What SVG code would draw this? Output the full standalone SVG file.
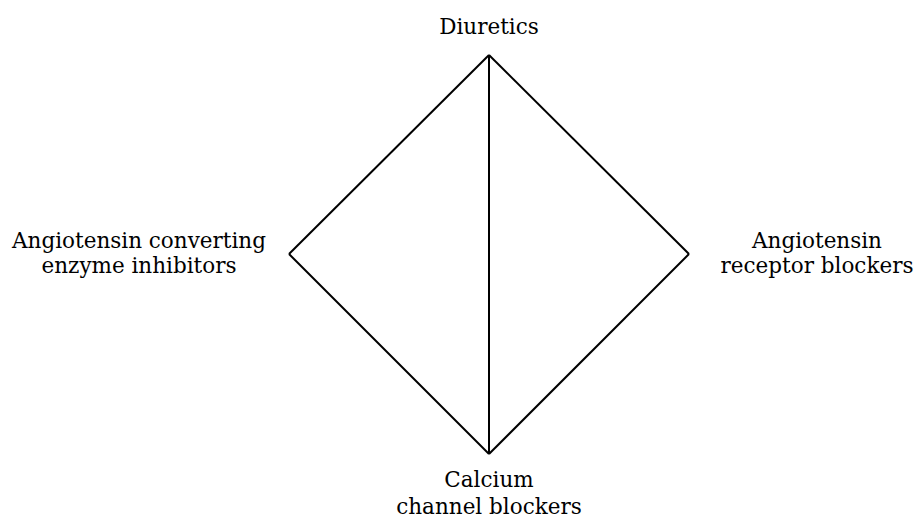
<svg xmlns="http://www.w3.org/2000/svg" width="916" height="521" viewBox="0 0 916 521">
<style>
.lbl{font-family:"DejaVu Serif","Liberation Serif",serif;font-size:21.5px;fill:#000;text-anchor:middle}
.edge{stroke:#000;stroke-width:2;fill:none}
</style>
<rect width="916" height="521" fill="#fff"/>
<g id="connectors">
<line class="edge" x1="489" y1="55" x2="689" y2="254"/>
<line class="edge" x1="689" y1="254" x2="489" y2="454"/>
<line class="edge" x1="489" y1="454" x2="289" y2="254"/>
<line class="edge" x1="289" y1="254" x2="489" y2="55"/>
<line class="edge" x1="489" y1="55" x2="489" y2="454"/>
</g>
<g id="diuretics"><text class="lbl" x="489" y="34">Diuretics</text></g>
<g id="ace"><text class="lbl" x="139" y="248">Angiotensin converting</text><text class="lbl" x="139" y="273">enzyme inhibitors</text></g>
<g id="arb"><text class="lbl" x="817" y="248">Angiotensin</text><text class="lbl" x="817" y="273">receptor blockers</text></g>
<g id="ccb"><text class="lbl" x="489" y="487">Calcium</text><text class="lbl" x="489" y="514">channel blockers</text></g>
</svg>
